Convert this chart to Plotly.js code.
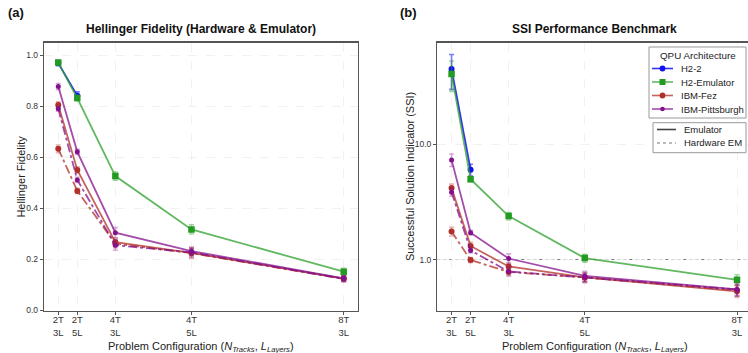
<!DOCTYPE html>
<html>
<head>
<meta charset="utf-8">
<script src="https://cdn.plot.ly/plotly-3.0.1.min.js"></script>
<style>
html,body{margin:0;padding:0;overflow:hidden;background:#fff;}
#chart{width:752px;height:353px;}
</style>
</head>
<body>
<div id="chart"></div>
<script>
// ---- data ----
const qubits = [8, 16, 32, 64, 128];
const configLabels = ['2T<br>3L', '2T<br>5L', '4T<br>3L', '4T<br>5L', '8T<br>3L'];
const seriesNames = ['H2-2', 'H2-Emulator', 'IBM-Fez', 'IBM-Pittsburgh'];
const styleNames = ['Emulator', 'Hardware EM'];

// Hellinger fidelity (panel a)
const hfH2 = [0.970, 0.842];
const hfH2Err = [0.010, 0.015];
const hfH2Emu = [0.972, 0.833, 0.527, 0.318, 0.152];
const hfH2EmuErr = [0.006, 0.010, 0.016, 0.018, 0.013];
const hfFezEmu = [0.806, 0.551, 0.268, 0.226, 0.125];
const hfFezEmuErr = [0.012, 0.012, 0.016, 0.018, 0.010];
const hfFezHw = [0.634, 0.469, 0.262, 0.225, 0.124];
const hfFezHwErr = [0.015, 0.010, 0.016, 0.020, 0.010];
const hfPitEmu = [0.878, 0.622, 0.305, 0.233, 0.126];
const hfPitEmuErr = [0.012, 0.010, 0.020, 0.016, 0.010];
const hfPitHw = [0.791, 0.512, 0.256, 0.228, 0.124];
const hfPitHwErr = [0.010, 0.010, 0.020, 0.016, 0.012];

// SSI (panel b)
const ssiH2 = [44.9, 6.0];
const ssiH2Err = [15.0, 0.7];
const ssiH2Emu = [40.7, 4.97, 2.38, 1.03, 0.667];
const ssiH2EmuErr = [12.0, 0.25, 0.18, 0.08, 0.07];
const ssiFezEmu = [4.16, 1.31, 0.87, 0.70, 0.53];
const ssiFezEmuErr = [0.35, 0.10, 0.07, 0.06, 0.06];
const ssiFezHw = [1.75, 0.99, 0.78, 0.70, 0.54];
const ssiFezHwErr = [0.15, 0.05, 0.05, 0.06, 0.06];
const ssiPitEmu = [7.31, 1.71, 1.02, 0.72, 0.55];
const ssiPitEmuErr = [0.90, 0.08, 0.10, 0.07, 0.06];
const ssiPitHw = [3.84, 1.20, 0.787, 0.70, 0.55];
const ssiPitHwErr = [0.30, 0.06, 0.07, 0.07, 0.07];

// ---- styles ----
const C = {
  blue:   {m: '#1010f0', l: 'rgba(16,16,240,0.85)', e: 'rgba(16,16,240,0.55)'},
  green:  {m: '#239b23', l: 'rgba(44,160,44,0.75)', e: 'rgba(44,160,44,0.45)'},
  red:    {m: '#b0302a', l: 'rgba(178,48,40,0.75)', e: 'rgba(178,48,40,0.35)'},
  purple: {m: '#84108e', l: 'rgba(132,16,142,0.75)', e: 'rgba(132,16,142,0.35)'}
};
const legendCols = [C.blue, C.green, C.red, C.purple];
const legendSyms = ['circle', 'square', 'circle', 'circle'];

function tr(xa, ya, y, err, col, sym, size, dash, name) {
  return {
    x: qubits.slice(0, y.length), y: y, xaxis: xa, yaxis: ya,
    type: 'scatter', mode: 'lines+markers', name: name, showlegend: false,
    line: {color: col.l, width: 1.8, dash: dash},
    marker: {color: col.m, symbol: sym, size: size},
    error_y: {type: 'data', array: err, visible: true, color: col.e, thickness: 1.6, width: 2.5}
  };
}

const traces = [
  tr('x', 'y', hfH2, hfH2Err, C.blue, 'circle', 6, 'solid', seriesNames[0]),
  tr('x', 'y', hfH2Emu, hfH2EmuErr, C.green, 'square', 6.5, 'solid', seriesNames[1]),
  tr('x', 'y', hfFezEmu, hfFezEmuErr, C.red, 'circle', 6, 'solid', seriesNames[2]),
  tr('x', 'y', hfFezHw, hfFezHwErr, C.red, 'circle', 6, 'dashdot', seriesNames[2]),
  tr('x', 'y', hfPitEmu, hfPitEmuErr, C.purple, 'circle', 5, 'solid', seriesNames[3]),
  tr('x', 'y', hfPitHw, hfPitHwErr, C.purple, 'circle', 5, 'dashdot', seriesNames[3]),

  tr('x2', 'y2', ssiH2, ssiH2Err, C.blue, 'circle', 6, 'solid', seriesNames[0]),
  tr('x2', 'y2', ssiH2Emu, ssiH2EmuErr, C.green, 'square', 6.5, 'solid', seriesNames[1]),
  tr('x2', 'y2', ssiFezEmu, ssiFezEmuErr, C.red, 'circle', 6, 'solid', seriesNames[2]),
  tr('x2', 'y2', ssiFezHw, ssiFezHwErr, C.red, 'circle', 6, 'dashdot', seriesNames[2]),
  tr('x2', 'y2', ssiPitEmu, ssiPitEmuErr, C.purple, 'circle', 5, 'solid', seriesNames[3]),
  tr('x2', 'y2', ssiPitHw, ssiPitHwErr, C.purple, 'circle', 5, 'dashdot', seriesNames[3])
];

const W = 752, H = 353;
const px = v => v / W, py = v => 1 - v / H;
const font = 'Liberation Sans, Arial, Helvetica, sans-serif';
const tickFont = {family: font, size: 8.5, color: '#333'};
const xTickFont = {family: font, size: 9.5, color: '#333'};
const gridCol = '#ededed';

function xaxis(dom, anchor) {
  return {
    domain: dom, anchor: anchor, range: [2, 134],
    tickmode: 'array', tickvals: qubits, ticktext: configLabels,
    ticks: 'outside', ticklen: 3, tickcolor: '#555', tickfont: xTickFont, ticklabelstandoff: -3,
    showline: true, mirror: true, linecolor: '#555', linewidth: 1.3,
    showgrid: true, gridcolor: gridCol, gridwidth: 0.8, griddash: 'dash', zeroline: false
  };
}

const yDom = [1 - 310.5 / H, 1 - 42.7 / H];

const shapes = [
  {type: 'line', xref: 'x2 domain', yref: 'y2', x0: 0, x1: 1, y0: 1, y1: 1,
   line: {color: '#777', width: 1, dash: 'dot'}, layer: 'below'},
  // legend boxes
  {type: 'rect', xref: 'paper', yref: 'paper', x0: px(649), x1: px(746), y0: py(47), y1: py(118),
   fillcolor: 'rgba(255,255,255,0.9)', line: {color: '#999', width: 1}},
  {type: 'rect', xref: 'paper', yref: 'paper', x0: px(653), x1: px(746), y0: py(122.7), y1: py(152.7),
   fillcolor: 'rgba(255,255,255,0.9)', line: {color: '#999', width: 1}}
];

const annotations = [
  {text: '<b>Hellinger Fidelity (Hardware &amp; Emulator)</b>', xref: 'paper', yref: 'paper',
   x: px(201), y: py(29), xanchor: 'center', yanchor: 'middle', showarrow: false,
   font: {family: font, size: 12, color: '#111'}},
  {text: '<b>SSI Performance Benchmark</b>', xref: 'paper', yref: 'paper',
   x: px(594), y: py(29), xanchor: 'center', yanchor: 'middle', showarrow: false,
   font: {family: font, size: 12, color: '#111'}},
  {text: '<b>(a)</b>', xref: 'paper', yref: 'paper', x: px(6), y: py(13),
   xanchor: 'left', yanchor: 'middle', showarrow: false, font: {family: font, size: 13, color: '#111'}},
  {text: '<b>(b)</b>', xref: 'paper', yref: 'paper', x: px(398), y: py(13),
   xanchor: 'left', yanchor: 'middle', showarrow: false, font: {family: font, size: 13, color: '#111'}},
  {text: 'Hellinger Fidelity', xref: 'paper', yref: 'paper', x: px(21), y: py(176.6), textangle: -90,
   xanchor: 'center', yanchor: 'middle', showarrow: false, font: {family: font, size: 11, color: '#222'}},
  {text: 'Successful Solution Indicator (SSI)', xref: 'paper', yref: 'paper', x: px(409.5), y: py(176.6), textangle: -90,
   xanchor: 'center', yanchor: 'middle', showarrow: false, font: {family: font, size: 11, color: '#222'}},
  {text: 'Problem Configuration (<i>N</i><sub><i>Tracks</i></sub>, <i>L</i><sub><i>Layers</i></sub>)', xref: 'paper', yref: 'paper',
   x: px(201), y: py(346.5), xanchor: 'center', yanchor: 'middle', showarrow: false, font: {family: font, size: 11, color: '#222'}},
  {text: 'Problem Configuration (<i>N</i><sub><i>Tracks</i></sub>, <i>L</i><sub><i>Layers</i></sub>)', xref: 'paper', yref: 'paper',
   x: px(594.5), y: py(346.5), xanchor: 'center', yanchor: 'middle', showarrow: false, font: {family: font, size: 11, color: '#222'}},
  {text: 'QPU Architecture', xref: 'paper', yref: 'paper', x: px(697.5), y: py(55.5),
   xanchor: 'center', yanchor: 'middle', showarrow: false, font: {family: font, size: 9.8, color: '#222'}}
];

// legend 1 entries
const rowsY = [68.5, 82, 95.5, 109];
seriesNames.forEach((nm, i) => {
  const y = rowsY[i], col = legendCols[i];
  shapes.push({type: 'line', xref: 'paper', yref: 'paper', x0: px(652), x1: px(673), y0: py(y), y1: py(y),
               line: {color: col.l, width: 1.6}});
  if (legendSyms[i] === 'square') {
    shapes.push({type: 'rect', xref: 'paper', yref: 'paper', x0: px(659.5), x1: px(665.5), y0: py(y - 3), y1: py(y + 3),
                 fillcolor: col.m, line: {width: 0}});
  } else {
    const r = i === 3 ? 2.3 : 2.9;
    shapes.push({type: 'circle', xref: 'paper', yref: 'paper', x0: px(662.5 - r), x1: px(662.5 + r), y0: py(y - r), y1: py(y + r),
                 fillcolor: col.m, line: {width: 0}});
  }
  annotations.push({text: nm, xref: 'paper', yref: 'paper', x: px(679), y: py(y), xanchor: 'left', yanchor: 'middle',
                    showarrow: false, font: {family: font, size: 9.5, color: '#222'}});
});
// legend 2 entries
const rows2 = [129.5, 143];
const dashes = ['solid', 'dot'];
styleNames.forEach((nm, i) => {
  const y = rows2[i];
  shapes.push({type: 'line', xref: 'paper', yref: 'paper', x0: px(657), x1: px(676), y0: py(y), y1: py(y),
               line: {color: i === 0 ? '#444' : '#777', width: i === 0 ? 1.6 : 1.0, dash: dashes[i]}});
  annotations.push({text: nm, xref: 'paper', yref: 'paper', x: px(682), y: py(y), xanchor: 'left', yanchor: 'middle',
                    showarrow: false, font: {family: font, size: 9.5, color: '#222'}});
});

const layout = {
  width: W, height: H,
  margin: {l: 0, r: 0, t: 0, b: 0},
  paper_bgcolor: '#fff', plot_bgcolor: '#fff',
  font: {family: font},
  showlegend: false,
  xaxis: xaxis([44 / W, 358 / W], 'y'),
  xaxis2: xaxis([437.3 / W, 751.3 / W], 'y2'),
  yaxis: {
    domain: yDom, anchor: 'x', range: [0, 1.05],
    tickmode: 'array', tickvals: [0, 0.2, 0.4, 0.6, 0.8, 1.0],
    ticktext: ['0.0', '0.2', '0.4', '0.6', '0.8', '1.0'],
    ticks: 'outside', ticklen: 3, tickcolor: '#555', tickfont: tickFont,
    showline: true, mirror: true, linecolor: '#555', linewidth: 1.3,
    showgrid: true, gridcolor: gridCol, gridwidth: 0.8, griddash: 'dash', zeroline: false
  },
  yaxis2: {
    domain: yDom, anchor: 'x2', type: 'log', range: [-0.442, 1.88],
    tickmode: 'array', tickvals: [1, 10], ticktext: ['1.0', '10.0'],
    ticks: 'outside', ticklen: 3, tickcolor: '#555', tickfont: tickFont,
    showline: true, mirror: true, linecolor: '#555', linewidth: 1.3,
    showgrid: true, gridcolor: gridCol, gridwidth: 0.8, griddash: 'dash', zeroline: false
  },
  shapes: shapes,
  annotations: annotations
};

Plotly.newPlot('chart', traces, layout, {displayModeBar: false, staticPlot: true});
</script>
</body>
</html>
